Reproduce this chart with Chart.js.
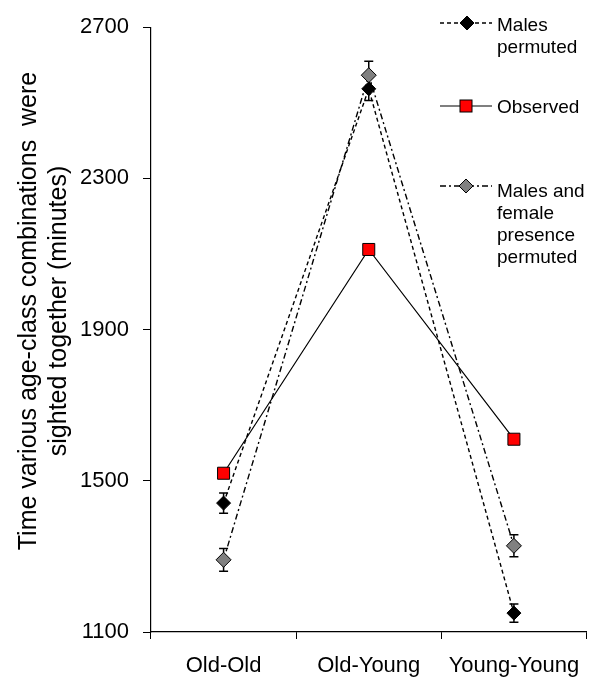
<!DOCTYPE html>
<html>
<head>
<meta charset="utf-8">
<script src="https://cdn.jsdelivr.net/npm/chart.js@4.4.1/dist/chart.umd.min.js"></script>
<style>
  html, body { margin: 0; padding: 0; background: #fff; }
  #wrap { position: relative; width: 596px; height: 679px; font-family: "Liberation Sans", Arial, sans-serif; color: #000; }
  #chart { position: absolute; left: 0; top: 0; }
  .ytitle { position: absolute; left: -258px; top: 281px; width: 600px; height: 60px; line-height: 30px;
            font-size: 25px; text-align: center; white-space: pre; transform: rotate(-90deg); }
  #legendMarks { position: absolute; left: 0; top: 0; pointer-events: none; }
  .legtext { position: absolute; left: 497px; font-size: 19px; line-height: 22px; white-space: nowrap; }
</style>
</head>
<body>
<div id="wrap">
  <canvas id="chart" width="596" height="679"></canvas>
  <div class="ytitle">Time various age-class combinations  were
sighted together (minutes)</div>
  <svg id="legendMarks" width="596" height="300">
    <line x1="440" y1="23" x2="492" y2="23" stroke="#000" stroke-width="1.4" stroke-dasharray="4 3"/>
    <polygon points="460,23 467,16 474,23 467,30" fill="#000" stroke="#000" stroke-width="1"/>
    <line x1="440" y1="106" x2="492" y2="106" stroke="#000" stroke-width="1.2"/>
    <rect x="460" y="100" width="12" height="12" fill="#ff0000" stroke="#000" stroke-width="1"/>
    <line x1="440" y1="186" x2="492" y2="186" stroke="#000" stroke-width="1.4" stroke-dasharray="6 3 2 3"/>
    <polygon points="459,186 466,179 473,186 466,193" fill="#808080" stroke="#000" stroke-width="1"/>
  </svg>
  <div class="legtext" style="top:14px">Males<br>permuted</div>
  <div class="legtext" style="top:96px">Observed</div>
  <div class="legtext" style="top:180px">Males and<br>female<br>presence<br>permuted</div>
</div>
<script>
  // Age-class pairings on the x axis
  const categories = ['Old-Old', 'Old-Young', 'Young-Young'];

  // Minutes sighted together, with standard errors for the permuted sets
  const malesPermuted = [1441, 2537, 1150];
  const malesPermutedErr = [27, 31, 24];
  const observed = [1520, 2112, 1610];
  const malesFemalePermuted = [1291, 2573, 1328];
  const malesFemalePermutedErr = [30, 37, 29];

  // Y axis tick values
  const yTicks = [1100, 1500, 1900, 2300, 2700];

  const FONT = '"Liberation Sans", Arial, sans-serif';

  // Vertical error bars with caps, drawn underneath the markers
  const errorBars = {
    id: 'errorBars',
    beforeDatasetsDraw(chart) {
      const { ctx, scales: { y } } = chart;
      chart.data.datasets.forEach((ds, i) => {
        if (!ds.errors) return;
        const meta = chart.getDatasetMeta(i);
        ctx.save();
        ctx.strokeStyle = '#000';
        ctx.lineWidth = 1.5;
        ctx.setLineDash([]);
        ds.data.forEach((v, j) => {
          const px = meta.data[j].x;
          const top = y.getPixelForValue(v + ds.errors[j]);
          const bot = y.getPixelForValue(v - ds.errors[j]);
          ctx.beginPath();
          ctx.moveTo(px, top); ctx.lineTo(px, bot);
          ctx.moveTo(px - 4.5, top); ctx.lineTo(px + 4.5, top);
          ctx.moveTo(px - 4.5, bot); ctx.lineTo(px + 4.5, bot);
          ctx.stroke();
        });
        ctx.restore();
      });
    }
  };

  new Chart(document.getElementById('chart'), {
    type: 'line',
    data: {
      labels: categories,
      datasets: [
        {
          label: 'Males permuted',
          data: malesPermuted,
          errors: malesPermutedErr,
          borderColor: '#000',
          borderWidth: 1.4,
          borderDash: [4, 3],
          pointStyle: 'rectRot',
          pointRadius: 7,
          pointBackgroundColor: '#000',
          pointBorderColor: '#000',
          pointBorderWidth: 1,
          tension: 0
        },
        {
          label: 'Observed',
          data: observed,
          borderColor: '#000',
          borderWidth: 1.2,
          pointStyle: 'rect',
          pointRadius: 8.5,
          pointBackgroundColor: '#ff0000',
          pointBorderColor: '#000',
          pointBorderWidth: 1,
          tension: 0
        },
        {
          label: 'Males and female presence permuted',
          data: malesFemalePermuted,
          errors: malesFemalePermutedErr,
          borderColor: '#000',
          borderWidth: 1.4,
          borderDash: [6, 3, 2, 3],
          pointStyle: 'rectRot',
          pointRadius: 7.5,
          pointBackgroundColor: '#808080',
          pointBorderColor: '#000',
          pointBorderWidth: 1,
          tension: 0
        }
      ]
    },
    options: {
      responsive: false,
      animation: false,
      layout: { padding: { top: 21, right: 6, left: 0, bottom: 0 } },
      plugins: { legend: { display: false }, tooltip: { enabled: false } },
      scales: {
        x: {
          type: 'category',
          offset: true,
          grid: { offset: true, drawOnChartArea: false, drawTicks: true, tickLength: 7, tickColor: '#000', tickWidth: 1 },
          border: { color: '#000', width: 1.2 },
          ticks: { color: '#000', font: { size: 22, family: FONT }, padding: 14, maxRotation: 0, autoSkip: false },
          afterFit(scale) { scale.height = 47; }
        },
        y: {
          min: 1100,
          max: 2700,
          grid: { drawOnChartArea: false, drawTicks: true, tickLength: 8, tickColor: '#000', tickWidth: 1 },
          border: { color: '#000', width: 1.2 },
          ticks: { color: '#000', font: { size: 22, family: FONT }, padding: 14, callback: v => String(v) },
          afterBuildTicks(scale) { scale.ticks = yTicks.map(v => ({ value: v })); },
          afterFit(scale) { scale.width = 151; }
        }
      }
    },
    plugins: [errorBars]
  });
</script>
</body>
</html>
